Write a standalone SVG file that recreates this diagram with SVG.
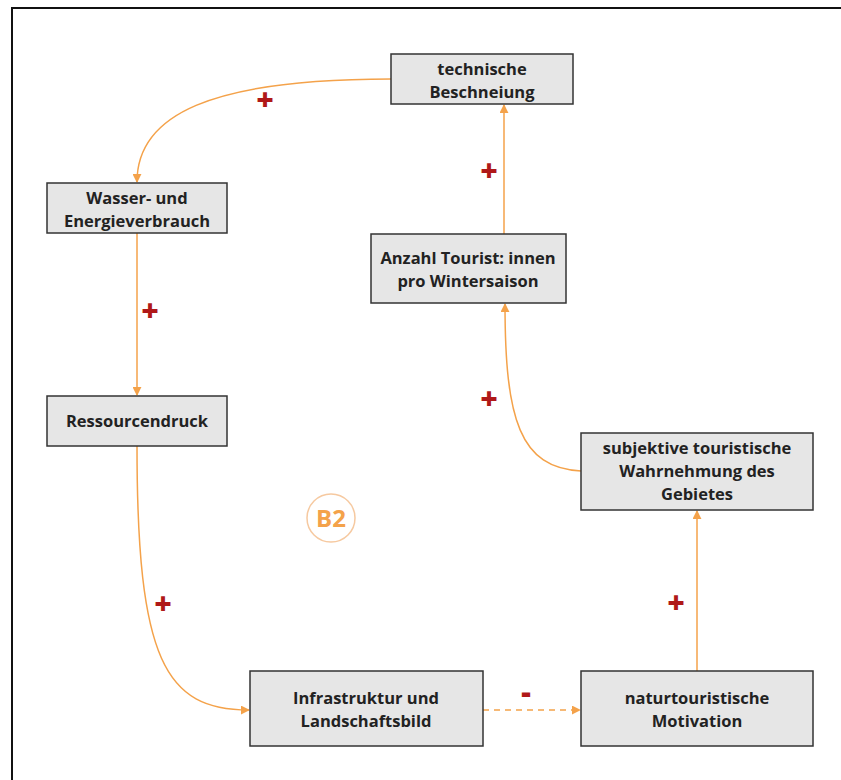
<svg xmlns="http://www.w3.org/2000/svg" width="841" height="780" viewBox="0 0 841 780">
  <defs>
    <marker id="arrow" viewBox="0 0 10 10" refX="9" refY="5" markerWidth="9" markerHeight="9" orient="auto-start-reverse" markerUnits="userSpaceOnUse">
      <path d="M0,0 L10,5 L0,10 z" fill="#f4a24a"/>
    </marker>
    <style>
      .node rect { fill: #e6e6e6; stroke: #333333; stroke-width: 1.5; }
      .node text { font-family: "Open Sans", "Noto Sans", sans-serif; font-weight: 700; font-size: 16.5px; fill: #222222; text-anchor: middle; }
      .link { fill: none; stroke: #f4a24a; stroke-width: 1.5; marker-end: url(#arrow); }
      .dashed { stroke-dasharray: 6 5; }
      .sign { font-family: "Open Sans", "Noto Sans", sans-serif; font-weight: 800; font-size: 30px; fill: #b01818; text-anchor: middle; }
    </style>
  </defs>

  <rect x="0" y="0" width="841" height="780" fill="#ffffff"/>
  <!-- outer frame -->
  <rect x="12" y="8" width="840" height="790" fill="none" stroke="#111111" stroke-width="2"/>

  <!-- connectors -->
  <g id="connectors">
    <path class="link" d="M391,79 C210,79 137,115 137,182"/>
    <path class="link" d="M137,233 L137,395"/>
    <path class="link" d="M137,446 C137,660 165,710 249,710"/>
    <path class="link dashed" d="M483,710 L580,710"/>
    <path class="link" d="M697,671 L697,511"/>
    <path class="link" d="M581,471 C520,468 505,420 505,304"/>
    <path class="link" d="M504,234 L504,105"/>
  </g>

  <!-- polarity signs -->
  <g id="signs">
    <text class="sign" x="265" y="110">+</text>
    <text class="sign" x="150" y="321">+</text>
    <text class="sign" x="489" y="181">+</text>
    <text class="sign" x="489" y="409">+</text>
    <text class="sign" x="163" y="614">+</text>
    <text class="sign" x="676" y="613">+</text>
    <text class="sign" x="526" y="703" font-size="34">-</text>
  </g>

  <!-- loop label -->
  <g id="loop-b2">
    <circle cx="331" cy="518" r="24" fill="none" stroke="#f6c9a0" stroke-width="1.5"/>
    <text x="331" y="527" font-family="Open Sans, Noto Sans, sans-serif" font-weight="700" font-size="24" fill="#f4a24a" text-anchor="middle">B2</text>
  </g>

  <g id="technische-beschneiung" class="node">
    <rect x="391" y="54" width="182" height="50"/>
    <text x="482" y="75">technische</text>
    <text x="482" y="98">Beschneiung</text>
  </g>

  <g id="wasser-energie" class="node">
    <rect x="47" y="183" width="180" height="50"/>
    <text x="137" y="204">Wasser- und</text>
    <text x="137" y="227">Energieverbrauch</text>
  </g>

  <g id="ressourcendruck" class="node">
    <rect x="47" y="396" width="180" height="50"/>
    <text x="137" y="427">Ressourcendruck</text>
  </g>

  <g id="infrastruktur" class="node">
    <rect x="250" y="671" width="233" height="75"/>
    <text x="366" y="704">Infrastruktur und</text>
    <text x="366" y="727">Landschaftsbild</text>
  </g>

  <g id="naturtouristische-motivation" class="node">
    <rect x="581" y="671" width="232" height="75"/>
    <text x="697" y="704">naturtouristische</text>
    <text x="697" y="727">Motivation</text>
  </g>

  <g id="subjektive-wahrnehmung" class="node">
    <rect x="581" y="433" width="232" height="77"/>
    <text x="697" y="454">subjektive touristische</text>
    <text x="697" y="477">Wahrnehmung des</text>
    <text x="697" y="500">Gebietes</text>
  </g>

  <g id="anzahl-touristinnen" class="node">
    <rect x="371" y="234" width="195" height="69"/>
    <text x="468" y="264">Anzahl Tourist: innen</text>
    <text x="468" y="287">pro Wintersaison</text>
  </g>
</svg>
